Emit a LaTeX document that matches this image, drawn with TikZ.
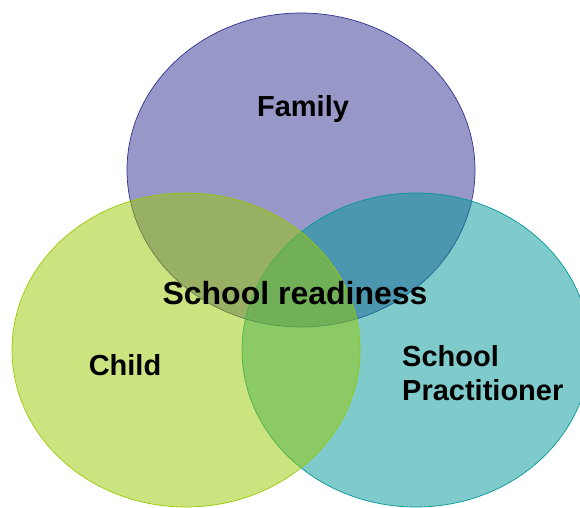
\documentclass[tikz,border=0pt]{standalone}
\usepackage{fontspec}
\setsansfont{Liberation Sans}
\definecolor{famblue}{HTML}{313191}
\definecolor{schteal}{HTML}{009797}
\definecolor{chgreen}{HTML}{99C901}

\begin{document}
\begin{tikzpicture}[x=1pt,y=1pt]
	\tikzset{
		venn/.style={fill opacity=.5,line width=.7pt},
		lbl/.style={font=\sffamily\bfseries\fontsize{29}{34}\selectfont,inner sep=0pt}}
	\useasboundingbox (0,0) rectangle (580,507);
	\clip (0,0) rectangle (580,507);
	\draw[venn,draw=famblue,fill=famblue] (301,337) ellipse (174 and 157);
	\draw[venn,draw=schteal,fill=schteal] (416,157) ellipse (174 and 157);
	\draw[venn,draw=chgreen,fill=chgreen] (186,157) ellipse (174 and 157);
	\node[lbl,anchor=base] (family) at (303,391) {Family};
	\node[lbl,anchor=base] (child) at (125,132) {Child};
	% base of a two-line node sits on its last line
	\node[lbl,anchor=base west,align=left] (practitioner) at (402,107) {School\\Practitioner};
	\node[lbl,anchor=base,font=\sffamily\bfseries\fontsize{32}{38}\selectfont] (readiness) at (295,203) {School readiness};
\end{tikzpicture}
\end{document}
